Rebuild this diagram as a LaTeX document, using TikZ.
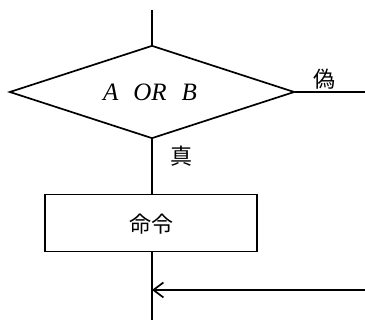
\documentclass[tikz,border=0pt]{standalone}
\usepackage{fontspec}
\setmainfont{Liberation Serif}
\newfontfamily\cjk{Noto Sans CJK JP}
\usetikzlibrary{shapes.geometric,arrows.meta}
\begin{document}
\begin{tikzpicture}[x=1pt,y=-1pt,
  flow/.style={line width=1.7pt},
  dec/.style={draw,line width=1.7pt,diamond,minimum width=285pt,minimum height=93pt,inner sep=0pt,aspect=3.06},
  proc/.style={draw,line width=1.7pt,rectangle,minimum width=212pt,minimum height=57pt,inner sep=0pt},
  lbl/.style={font=\cjk\fontsize{22}{22}\selectfont,inner sep=0pt}]
\useasboundingbox (0,0) rectangle (365,320);
\coordinate (top) at (152,10);
\node[dec] (d) at (152,92) {};
\node[font=\itshape\fontsize{25}{25}\selectfont] (t) at (150,92) {A\hspace{0.6em}OR\hspace{0.6em}B};
\node[proc] (p) at (151,223) {};
\node[lbl] (c) at (151,224) {命令};
\coordinate (rt) at (365,92);
\coordinate (bot) at (152,320);
\coordinate (j) at (152,290);
\coordinate (in) at (365,290);
\node[lbl] (f) at (324,79) {偽};
\node[lbl] (tr) at (181,156) {真};
\draw[flow] (top) -- (d.north);
\draw[flow] (d.east) -- (rt);
\draw[flow] (d.south) -- (p.north -| d.south);
\draw[flow] (p.south -| d.south) -- (bot);
\draw[flow,-{Straight Barb[length=10pt,width=15pt,line width=1.7pt]}] (in) -- (j);
\end{tikzpicture}
\end{document}
